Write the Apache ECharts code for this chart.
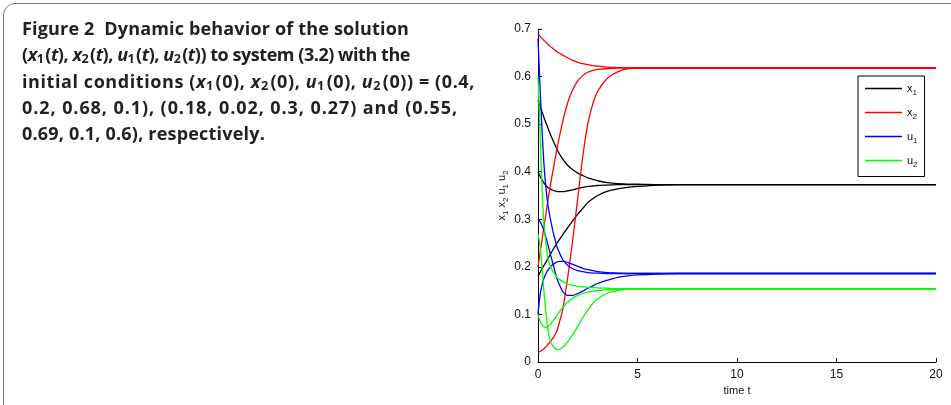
<!DOCTYPE html>
<html>
<head>
<meta charset="utf-8">
<script src="https://cdn.jsdelivr.net/npm/echarts@6/dist/echarts.min.js"></script>
<style>
  html, body { margin: 0; padding: 0; background: #fff; width: 951px; height: 405px; overflow: hidden; }
  #chart { position: absolute; left: 0; top: 0; width: 951px; height: 405px; }
  #frame { position: absolute; left: 3px; top: 3px; width: 1000px; height: 420px;
           border: 1.5px solid #7a7a7a; border-top-left-radius: 12px; box-sizing: border-box; pointer-events: none; }
  #caption { position: absolute; left: 22px; top: 15px; font-family: "Open Sans", "Noto Sans", sans-serif;
             font-weight: bold; font-size: 18px; line-height: 26.3px; color: #231f20; white-space: nowrap; }
  #caption .ln { display: block; }
  #caption .ln span { display: inline-block; }
  #caption i { font-style: italic; }
  #caption sub { font-size: 70%; vertical-align: -0.16em; line-height: 0; margin-right: 0.14em; }
</style>
</head>
<body>
<div id="chart"></div>
<div id="frame"></div>
<div id="caption">
<div class="ln"><span>Figure 2&nbsp;&nbsp;Dynamic behavior of the solution</span></div>
<div class="ln"><span>(<i>x</i><sub>1</sub>(<i>t</i>), <i>x</i><sub>2</sub>(<i>t</i>), <i>u</i><sub>1</sub>(<i>t</i>), <i>u</i><sub>2</sub>(<i>t</i>)) to system (3.2) with the</span></div>
<div class="ln"><span>initial conditions (<i>x</i><sub>1</sub>(0), <i>x</i><sub>2</sub>(0), <i>u</i><sub>1</sub>(0), <i>u</i><sub>2</sub>(0)) = (0.4,</span></div>
<div class="ln"><span>0.2, 0.68, 0.1), (0.18, 0.02, 0.3, 0.27) and (0.55,</span></div>
<div class="ln"><span>0.69, 0.1, 0.6), respectively.</span></div>
</div>
<script>
// time samples
var time = [0, 0.1, 0.2, 0.3, 0.4, 0.5, 0.6, 0.75, 0.9, 1, 1.25, 1.5, 1.75, 2, 2.25, 2.5, 2.75, 3, 3.5, 4, 4.5, 5, 6, 7, 8, 10, 12, 15, 20];

// x1 for the three initial conditions
var x1_ic1 = [0.4, 0.391, 0.383, 0.376, 0.371, 0.367, 0.364, 0.361, 0.359, 0.358, 0.358, 0.360, 0.362, 0.365, 0.367, 0.369, 0.370, 0.371, 0.372, 0.373, 0.373, 0.373, 0.373, 0.373, 0.373, 0.373, 0.373, 0.373, 0.373];
var x1_ic2 = [0.18, 0.188, 0.196, 0.203, 0.21, 0.218, 0.225, 0.236, 0.246, 0.253, 0.268, 0.283, 0.297, 0.311, 0.323, 0.335, 0.343, 0.35, 0.359, 0.364, 0.367, 0.369, 0.372, 0.373, 0.373, 0.373, 0.373, 0.373, 0.373];
var x1_ic3 = [0.55, 0.538, 0.526, 0.514, 0.503, 0.492, 0.481, 0.466, 0.452, 0.443, 0.426, 0.413, 0.404, 0.397, 0.392, 0.387, 0.384, 0.381, 0.377, 0.375, 0.374, 0.374, 0.373, 0.373, 0.373, 0.373, 0.373, 0.373, 0.373];

// x2
var x2_ic1 = [0.2, 0.229, 0.256, 0.284, 0.312, 0.34, 0.366, 0.402, 0.436, 0.458, 0.507, 0.546, 0.573, 0.591, 0.602, 0.609, 0.613, 0.615, 0.617, 0.618, 0.618, 0.618, 0.618, 0.618, 0.618, 0.618, 0.618, 0.618, 0.618];
var x2_ic2 = [0.02, 0.022, 0.025, 0.028, 0.032, 0.037, 0.042, 0.05, 0.061, 0.072, 0.112, 0.18, 0.258, 0.345, 0.432, 0.5, 0.542, 0.569, 0.597, 0.61, 0.616, 0.618, 0.618, 0.618, 0.618, 0.618, 0.618, 0.618, 0.618];
var x2_ic3 = [0.69, 0.685, 0.68, 0.676, 0.672, 0.668, 0.664, 0.659, 0.654, 0.651, 0.645, 0.639, 0.634, 0.63, 0.627, 0.625, 0.623, 0.622, 0.62, 0.619, 0.618, 0.618, 0.618, 0.618, 0.618, 0.618, 0.618, 0.618, 0.618];

// u1
var u1_ic1 = [0.68, 0.58, 0.49, 0.415, 0.365, 0.33, 0.305, 0.275, 0.25, 0.237, 0.215, 0.203, 0.196, 0.192, 0.19, 0.188, 0.187, 0.187, 0.186, 0.186, 0.186, 0.186, 0.186, 0.186, 0.186, 0.186, 0.186, 0.186, 0.186];
var u1_ic2 = [0.3, 0.295, 0.287, 0.276, 0.262, 0.246, 0.23, 0.207, 0.183, 0.17, 0.148, 0.14, 0.14, 0.144, 0.149, 0.155, 0.16, 0.165, 0.172, 0.178, 0.181, 0.183, 0.185, 0.186, 0.186, 0.186, 0.186, 0.186, 0.186];
var u1_ic3 = [0.1, 0.14, 0.161, 0.176, 0.186, 0.193, 0.199, 0.205, 0.209, 0.211, 0.212, 0.209, 0.205, 0.201, 0.197, 0.194, 0.192, 0.19, 0.188, 0.187, 0.186, 0.186, 0.186, 0.186, 0.186, 0.186, 0.186, 0.186, 0.186];

// u2
var u2_ic1 = [0.1, 0.086, 0.078, 0.074, 0.073, 0.075, 0.078, 0.086, 0.095, 0.101, 0.115, 0.126, 0.134, 0.14, 0.144, 0.147, 0.149, 0.15, 0.152, 0.153, 0.154, 0.154, 0.154, 0.154, 0.154, 0.154, 0.154, 0.154, 0.154];
var u2_ic2 = [0.27, 0.245, 0.2, 0.148, 0.103, 0.068, 0.047, 0.033, 0.027, 0.026, 0.031, 0.043, 0.058, 0.075, 0.093, 0.109, 0.123, 0.133, 0.145, 0.15, 0.153, 0.154, 0.154, 0.154, 0.154, 0.154, 0.154, 0.154, 0.154];
var u2_ic3 = [0.6, 0.49, 0.37, 0.29, 0.25, 0.218, 0.204, 0.19, 0.181, 0.176, 0.169, 0.164, 0.161, 0.159, 0.158, 0.157, 0.1565, 0.156, 0.155, 0.154, 0.154, 0.154, 0.154, 0.154, 0.154, 0.154, 0.154, 0.154, 0.154];

var legendNames = ['x1', 'x2', 'u1', 'u2'];
var legendLabels = ['{a|x}{s|1}', '{a|x}{s|2}', '{a|u}{s|1}', '{a|u}{s|2}'];
var yAxisTitle = '{a|x}{s|1} {a|x}{s|2} {a|u}{s|1} {a|u}{s|2}';
var xAxisTitle = 'time t';
var xTicks = { min: 0, max: 20, interval: 5 };
var yTicks = { min: 0, max: 0.7, interval: 0.1 };

var groups = [
  { name: 'x1', color: '#000000', runs: [x1_ic1, x1_ic2, x1_ic3] },
  { name: 'x2', color: '#ff0000', runs: [x2_ic1, x2_ic2, x2_ic3] },
  { name: 'u1', color: '#0000ff', runs: [u1_ic1, u1_ic2, u1_ic3] },
  { name: 'u2', color: '#00ff00', runs: [u2_ic1, u2_ic2, u2_ic3] }
];

// fit caption lines to the reference line widths with letter spacing
var captionWidths = [387, 388, 453, 436, 243];
var lines = document.querySelectorAll('#caption .ln span');
lines.forEach(function (el, i) {
  var n = el.textContent.length;
  var w = el.getBoundingClientRect().width;
  el.style.letterSpacing = ((captionWidths[i] - w) / n).toFixed(3) + 'px';
});

var series = [];
groups.forEach(function (g) {
  g.runs.forEach(function (vals) {
    series.push({
      name: g.name,
      type: 'line',
      symbol: 'none',
      smooth: 0.25,
      itemStyle: { color: g.color },
      lineStyle: { color: g.color, width: 1.3 },
      data: time.map(function (t, i) { return [t, vals[i]]; }),
      animation: false
    });
  });
});

var labelColor = '#111';
var fontFam = '"Liberation Sans", Arial, sans-serif';
var richSub = {
  a: { fontSize: 11, fontFamily: fontFam, color: labelColor, lineHeight: 16, verticalAlign: 'middle' },
  s: { fontSize: 8, fontFamily: fontFam, color: labelColor, lineHeight: 2, verticalAlign: 'bottom' }
};

var chart = echarts.init(document.getElementById('chart'), null, { renderer: 'canvas' });
chart.setOption({
  animation: false,
  backgroundColor: 'transparent',
  grid: { left: 538, right: 15, top: 29, bottom: 43, containLabel: false },
  legend: {
    data: legendNames,
    orient: 'vertical',
    left: 858,
    top: 76,
    backgroundColor: '#fff',
    borderColor: '#000',
    borderWidth: 1,
    borderRadius: 0,
    padding: [7, 7, 8, 7],
    itemGap: 10.5,
    itemWidth: 37,
    itemHeight: 1.5,
    icon: 'rect',
    formatter: function (n) { return legendLabels[legendNames.indexOf(n)]; },
    textStyle: { color: labelColor, fontFamily: fontFam, rich: richSub }
  },
  xAxis: {
    type: 'value',
    min: xTicks.min, max: xTicks.max, interval: xTicks.interval,
    name: xAxisTitle,
    nameLocation: 'middle',
    nameGap: 23,
    nameTextStyle: { fontFamily: fontFam, fontSize: 11, color: labelColor },
    axisLine: { show: true, onZero: false, lineStyle: { color: '#000', width: 1 } },
    axisTick: { show: true, inside: true, length: 4, lineStyle: { color: '#000' } },
    axisLabel: { fontFamily: fontFam, fontSize: 12, color: labelColor, margin: 7 },
    splitLine: { show: false }
  },
  yAxis: {
    type: 'value',
    min: yTicks.min, max: yTicks.max, interval: yTicks.interval,
    name: yAxisTitle,
    nameLocation: 'middle',
    nameRotate: 90,
    nameGap: 28,
    nameTextStyle: { fontFamily: fontFam, fontSize: 11, color: labelColor, rich: richSub },
    axisLine: { show: true, onZero: false, lineStyle: { color: '#000', width: 1 } },
    axisTick: { show: true, inside: true, length: 4, lineStyle: { color: '#000' } },
    axisLabel: { fontFamily: fontFam, fontSize: 12, color: labelColor, margin: 7 },
    splitLine: { show: false }
  },
  series: series
});
</script>
</body>
</html>
